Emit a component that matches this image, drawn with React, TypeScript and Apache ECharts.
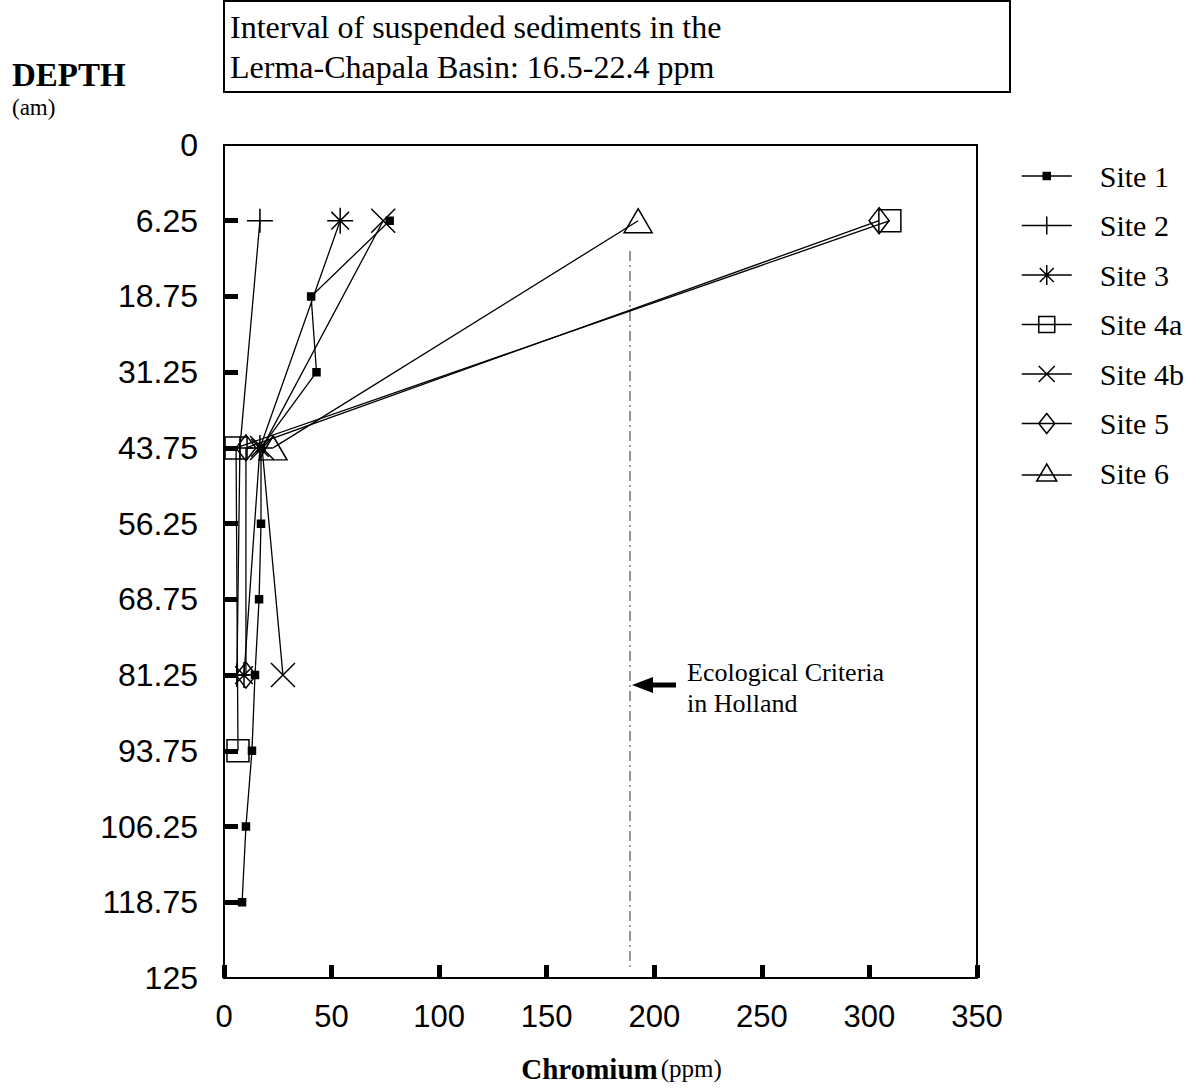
import React, { useEffect, useRef } from 'react';
import * as echarts from 'echarts';

// ---------- data ----------
const depthLabels = ['0', '6.25', '18.75', '31.25', '43.75', '56.25', '68.75', '81.25', '93.75', '106.25', '118.75', '125'];
const xMin = 0;
const xMax = 350;
const xInterval = 50;

const siteNames = ['Site 1', 'Site 2', 'Site 3', 'Site 4a', 'Site 4b', 'Site 5', 'Site 6'];

const site1Depths = ['6.25', '18.75', '31.25', '43.75', '56.25', '68.75', '81.25', '93.75', '106.25', '118.75'];
const site1Values = [77, 40.5, 43, 17.2, 17.2, 16.3, 14.4, 13, 10.2, 8.4];

const site2Depths = ['6.25', '43.75', '81.25'];
const site2Values = [16.7, 7.4, 6];

const site3Depths = ['6.25', '43.75', '81.25'];
const site3Values = [54, 16.7, 9.3];

const site4aDepths = ['6.25', '43.75', '93.75'];
const site4aValues = [309.5, 5.6, 6.5];

const site4bDepths = ['6.25', '43.75', '81.25'];
const site4bValues = [74, 17.7, 27.4];

const site5Depths = ['6.25', '43.75', '81.25'];
const site5Values = [304.5, 10.2, 10.2];

const site6Depths = ['6.25', '43.75'];
const site6Values = [192.5, 22.8];

// Ecological criteria (Holland) vertical reference, drawn on a hidden index axis
const ecologicalValue = 188.7;
const ecologicalSpan = [1.4, 10.85];

const titleLine1 = 'Interval of suspended sediments in the';
const titleLine2 = 'Lerma-Chapala Basin: 16.5-22.4 ppm';

// ---------- styling helpers ----------
const SERIF = 'Liberation Serif';
const SANS = 'Liberation Sans';
const CLEAR = 'rgba(0,0,0,0)';

const plusSym = 'path://M5,0L5,10M0,5L10,5';
const starSym = 'path://M0,5L10,5M5,0L5,10M1.6,1.6L8.4,8.4M1.6,8.4L8.4,1.6';
const crossSym = 'path://M0,0L10,10M0,10L10,0';

const legendIcons = [
  'path://M0,0M50,26M0,13L50,13M21.5,9.5L28.5,9.5L28.5,16.5L21.5,16.5Z',
  'path://M0,0M50,26M0,13L50,13M25,4L25,22',
  'path://M0,0M50,26M0,13L50,13M25,3L25,23M18,6L32,20M18,20L32,6',
  'path://M0,0M50,26M0,13L50,13M17,5L33,5L33,21L17,21Z',
  'path://M0,0M50,26M0,13L50,13M17,5L33,21M17,21L33,5',
  'path://M0,0M50,26M0,13L50,13M25,3L33,13L25,23L17,13Z',
  'path://M0,0M50,26M0,15L50,15M25,4L35,21L15,21Z',
];

const pairs = (vals: number[], depths: string[]) => vals.map((v, i) => [v, depths[i]]);

function siteSeries(name: string, vals: number[], depths: string[], symbol: string, size: any, filled = false) {
  return {
    name,
    type: 'line',
    data: pairs(vals, depths),
    symbol,
    symbolSize: size,
    showAllSymbol: true,
    lineStyle: { color: '#000', width: 1.3 },
    itemStyle: { color: filled ? '#000' : CLEAR, borderColor: '#000', borderWidth: 1.5 },
    emphasis: { disabled: true },
    z: 3,
  };
}

export default function App() {
  const ref = useRef<HTMLDivElement>(null);

  useEffect(() => {
    const chart = echarts.init(ref.current!, null, { renderer: 'svg' });
    const option: any = {
      animation: false,
      backgroundColor: '#fff',
      textStyle: { fontFamily: SERIF, color: '#000' },
      grid: {
        left: 224,
        right: 218,
        top: 145,
        bottom: 105,
        show: true,
        borderColor: '#000',
        borderWidth: 2,
        backgroundColor: CLEAR,
      },
      xAxis: {
        type: 'value',
        min: xMin,
        max: xMax,
        interval: xInterval,
        splitLine: { show: false },
        axisLine: { onZero: false, lineStyle: { color: '#000', width: 2 } },
        axisTick: { inside: true, length: 13, lineStyle: { color: '#000', width: 5 } },
        axisLabel: { color: '#000', fontFamily: SANS, fontSize: 31, margin: 23 },
        name: '{b|Chromium} {s|(ppm)}',
        nameLocation: 'middle',
        nameGap: 76,
        nameTextStyle: {
          padding: [0, 0, 0, 42],
          rich: {
            b: { fontFamily: SERIF, fontWeight: 'bold', fontSize: 29, color: '#000' },
            s: { fontFamily: SERIF, fontSize: 25, color: '#000' },
          },
        },
      },
      yAxis: [
        {
          type: 'category',
          data: depthLabels,
          inverse: true,
          boundaryGap: false,
          splitLine: { show: false },
          axisLine: { onZero: false, lineStyle: { color: '#000', width: 2 } },
          axisTick: {
            inside: true,
            length: 14,
            interval: (i: number) => i > 0 && i < depthLabels.length - 1,
            lineStyle: { color: '#000', width: 5 },
          },
          axisLabel: { interval: 0, color: '#000', fontFamily: SANS, fontSize: 32, margin: 26 },
        },
        {
          type: 'value',
          show: false,
          min: 0,
          max: depthLabels.length - 1,
          inverse: true,
        },
      ],
      legend: {
        orient: 'vertical',
        left: 1021,
        top: 161,
        padding: 0,
        itemWidth: 50,
        itemHeight: 26,
        itemGap: 19.5,
        selectedMode: false,
        textStyle: { fontFamily: SERIF, fontSize: 30, color: '#000', lineHeight: 26, padding: [0, 0, 0, 23] },
        itemStyle: { color: CLEAR, borderColor: '#000', borderWidth: 1.5 },
        data: siteNames.map((n, i) => ({
          name: n,
          icon: legendIcons[i],
          itemStyle: i === 0 ? { color: '#000', borderColor: '#000', borderWidth: 1.5 } : { color: CLEAR, borderColor: '#000', borderWidth: 1.5 },
        })),
      },
      series: [
        siteSeries(siteNames[0], site1Values, site1Depths, 'rect', 7, true),
        siteSeries(siteNames[1], site2Values, site2Depths, plusSym, [26, 24]),
        siteSeries(siteNames[2], site3Values, site3Depths, starSym, 26),
        siteSeries(siteNames[3], site4aValues, site4aDepths, 'rect', 22),
        siteSeries(siteNames[4], site4bValues, site4bDepths, crossSym, 24),
        siteSeries(siteNames[5], site5Values, site5Depths, 'diamond', [20, 26]),
        siteSeries(siteNames[6], site6Values, site6Depths, 'triangle', [28, 24]),
        {
          name: 'Ecological Criteria',
          type: 'line',
          yAxisIndex: 1,
          data: ecologicalSpan.map((d) => [ecologicalValue, d]),
          symbol: 'none',
          lineStyle: { color: '#555', width: 1.2, type: [10, 4, 2, 4] },
          emphasis: { disabled: true },
          z: 2,
        },
      ],
      graphic: [
        {
          type: 'rect',
          shape: { x: 224, y: 1, width: 786, height: 91 },
          style: { fill: CLEAR, stroke: '#000', lineWidth: 2 },
        },
        {
          type: 'text',
          x: 230,
          y: 27,
          style: { text: titleLine1, font: `32px "${SERIF}"`, fill: '#000', textVerticalAlign: 'middle' },
        },
        {
          type: 'text',
          x: 230,
          y: 67,
          style: { text: titleLine2, font: `32px "${SERIF}"`, fill: '#000', textVerticalAlign: 'middle' },
        },
        {
          type: 'text',
          x: 12,
          y: 75,
          style: { text: 'DEPTH', font: `bold 33px "${SERIF}"`, fill: '#000', textVerticalAlign: 'middle' },
        },
        {
          type: 'text',
          x: 12,
          y: 107,
          style: { text: '(am)', font: `23px "${SERIF}"`, fill: '#000', textVerticalAlign: 'middle' },
        },
        {
          type: 'text',
          x: 687,
          y: 672,
          style: { text: 'Ecological Criteria', font: `26px "${SERIF}"`, fill: '#000', textVerticalAlign: 'middle' },
        },
        {
          type: 'text',
          x: 687,
          y: 703,
          style: { text: 'in Holland', font: `26px "${SERIF}"`, fill: '#000', textVerticalAlign: 'middle' },
        },
        {
          type: 'rect',
          shape: { x: 650, y: 682.5, width: 26, height: 5 },
          style: { fill: '#000' },
        },
        {
          type: 'polygon',
          shape: { points: [[632, 685], [653, 677], [653, 693]] },
          style: { fill: '#000' },
        },
      ],
    };
    chart.setOption(option);
    return () => chart.dispose();
  }, []);

  return (
    <div
      ref={ref}
      style={{ position: 'absolute', left: 0, top: 0, width: 1195, height: 1088, background: '#fff' }}
    />
  );
}
